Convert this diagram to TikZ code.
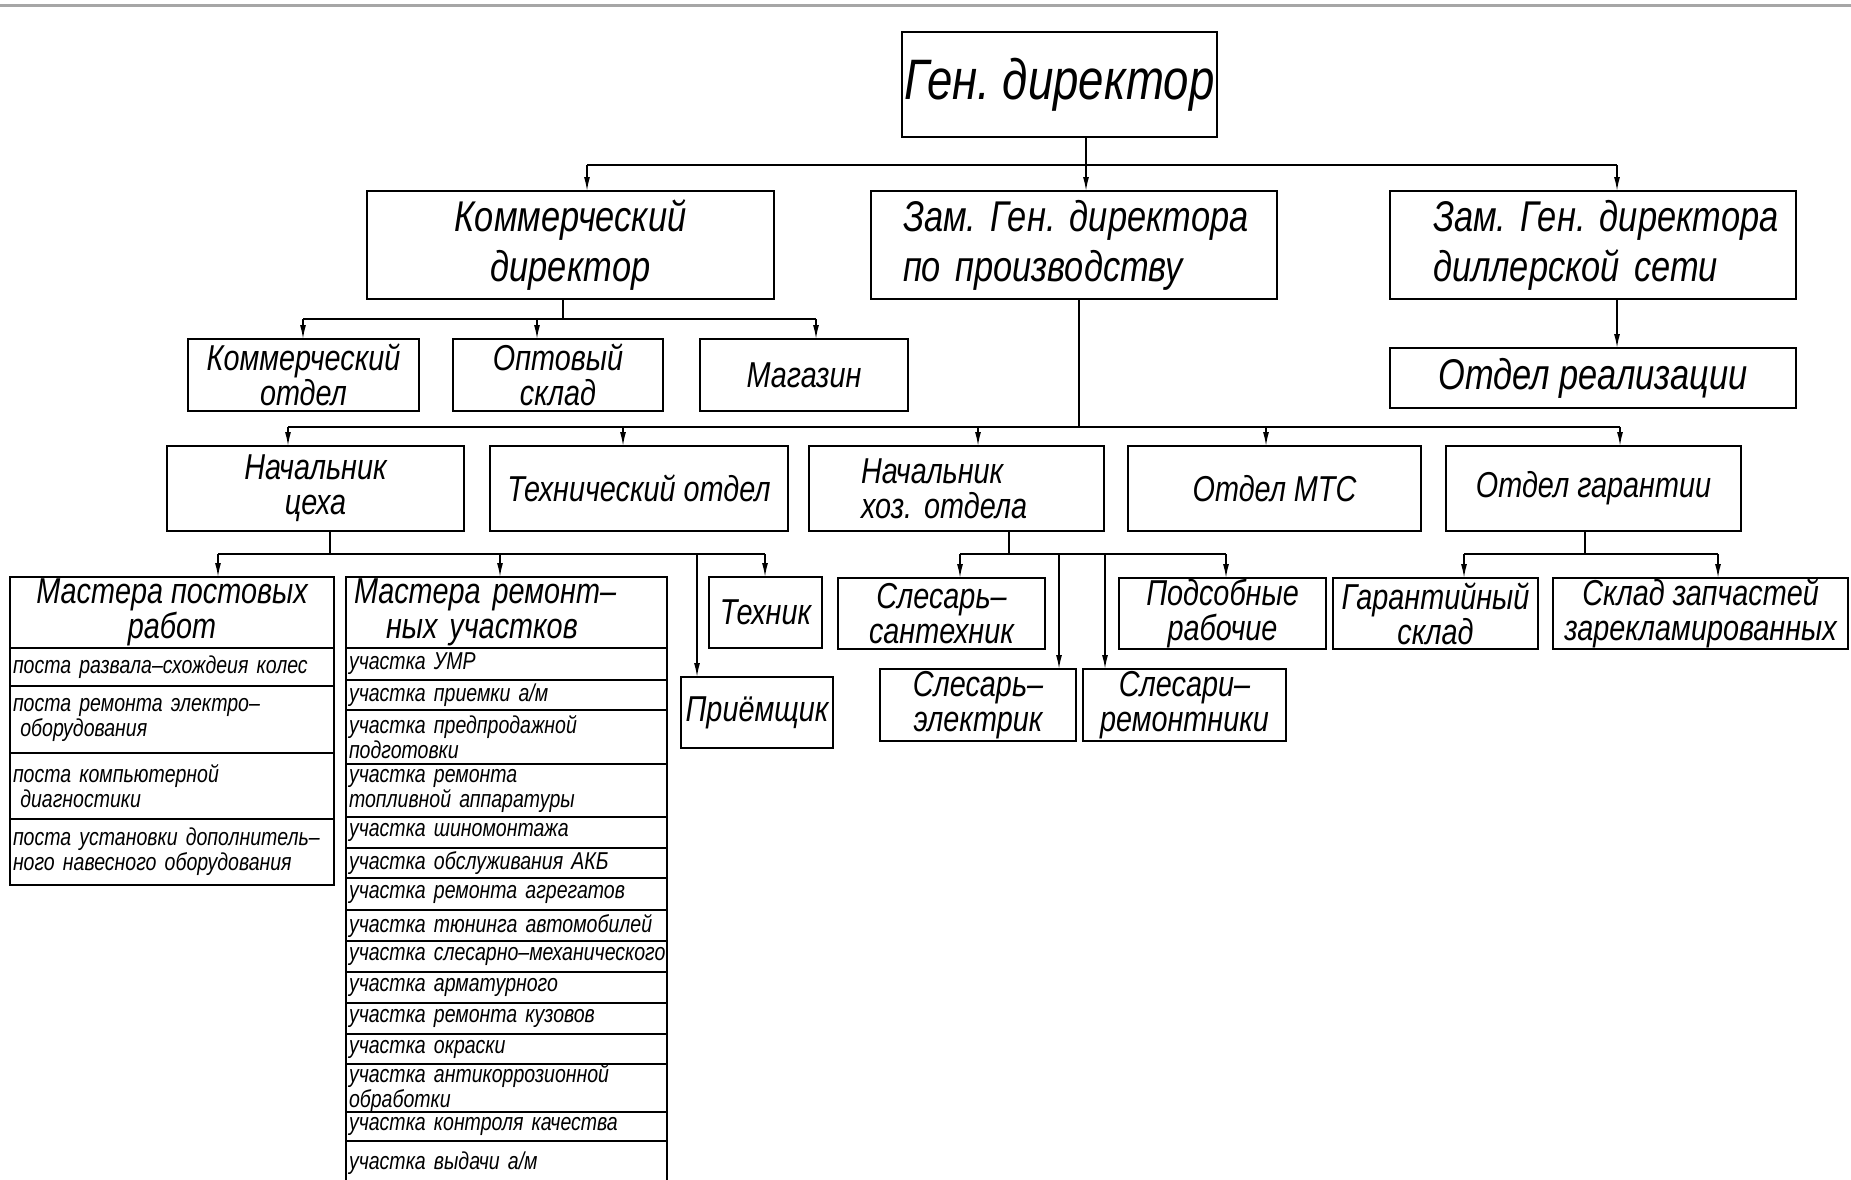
\documentclass[tikz,border=0pt]{standalone}
\usepackage{fontspec}
\setmainfont{Liberation Sans}[FakeStretch=0.8]
\usetikzlibrary{positioning,arrows.meta}
\newcommand\fgen{\fontsize{57}{57}\selectfont}
\newcommand\fbig{\fontsize{43}{50}\selectfont}
\newcommand\fmid{\fontsize{36}{35}\selectfont}
\newcommand\fsmall{\fontsize{24.4}{25}\selectfont}
\tikzset{
  box/.style={draw, line width=1.6pt, outer sep=0pt, inner xsep=2pt, inner ysep=0pt, align=center, font=\itshape\fmid},
  wh/.style 2 args={minimum width=#1pt, minimum height=#2pt},
  cell/.style={draw, line width=1.4pt, outer sep=0pt, inner xsep=3pt, inner ysep=0pt, align=left, font=\itshape\fsmall},
  link/.style={line width=1.5pt},
  arr/.style={line width=1.5pt, -{Latex[length=14pt,width=6pt]}}
}

\begin{document}
\frenchspacing
\begin{tikzpicture}[x=1pt,y=-1pt]
 \useasboundingbox (0,0) rectangle (1851,1179);
 \clip (0,0) rectangle (1851,1179);
 \draw[gray!70, line width=3pt] (0,5) -- (1851,5);

 \node[box, wh={315}{105}, font=\itshape\fgen] (gd) at (1059.5,84.5) {Ген. директор};

 \node[box, wh={407}{108}, font=\itshape\fbig] (kd) at (570.5,245) {Коммерческий\\директор};
 \node[box, minimum height=108pt, inner xsep=32pt, text width=342pt, align=left, font=\itshape\fbig] (zp) at (1074,245) {\mbox{Зам. Ген. директора}\\\mbox{по производству}};
 \node[box, minimum height=108pt, inner xsep=43pt, text width=320pt, align=left, font=\itshape\fbig] (zd) at (1593,245) {\mbox{Зам. Ген. директора}\\\mbox{диллерской сети}};

 \node[box, wh={231}{72}] (ko) at (303.5,375) {Коммерческий\\отдел};
 \node[box, wh={210}{72}] (os) at (558,375) {Оптовый\\склад};
 \node[box, wh={208}{72}] (mg) at (804,375) {Магазин};
 \node[box, wh={406}{60}, font=\itshape\fbig] (ore) at (1593,378) {Отдел реализации};

 \node[box, wh={297}{85}] (nc) at (315.5,488.5) {Начальник\\цеха};
 \node[box, wh={298}{85}] (to) at (639,488.5) {Технический отдел};
 \node[box, minimum height=85pt, inner xsep=52pt, text width=191pt, align=left] (nh) at (956.5,488.5) {\mbox{Начальник}\\\mbox{хоз. отдела}};
 \node[box, wh={293}{85}] (mts) at (1274.5,488.5) {Отдел МТС};
 \node[box, wh={295}{85}] (og) at (1593.5,488.5) {Отдел гарантии};

 \node[box, wh={324}{71}, anchor=north west] (mp0) at (10,577) {Мастера постовых\\работ};
 \foreach \h/\t [count=\i] in {38/{поста развала–схождеия колес},
   67/{поста ремонта электро–\\\hspace*{0.3em}оборудования},
   66/{поста компьютерной\\\hspace*{0.3em}диагностики},
   66/{поста установки дополнитель–\\ного навесного оборудования}}
 {
  \pgfmathtruncatemacro\j{\i-1}
  \node[cell, text width=318pt, minimum height=\h pt, below=0pt of mp\j] (mp\i) {\t};
 }

 \node[box, minimum height=71pt, inner xsep=8pt, text width=305pt, align=left, anchor=north west] (mr0) at (346,577) {Мастера ремонт–\\\hspace*{32pt}ных участков};
 \foreach \h/\t [count=\i] in {32/{участка УМР}, 30/{участка приемки а/м},
   54/{участка предпродажной\\подготовки}, 53/{участка ремонта\\топливной аппаратуры},
   31/{участка шиномонтажа}, 30/{участка обслуживания АКБ},
   32/{участка ремонта агрегатов}, 31/{участка тюнинга автомобилей},
   31/{\mbox{участка слесарно–механического}}, 31/{участка арматурного},
   31/{участка ремонта кузовов}, 30/{участка окраски},
   44/{\fontsize{24.4}{22}\selectfont участка антикоррозионной\\обработки},
   29/{участка контроля качества}, 44/{участка выдачи а/м}}
 {
  \pgfmathtruncatemacro\j{\i-1}
  \node[cell, text width=315pt, minimum height=\h pt, below=0pt of mr\j] (mr\i) {\t};
 }

 \node[box, wh={113}{71}] (tx) at (765.5,612.5) {Техник};
 \node[box, wh={152}{71}] (pr) at (757,712.5) {Приёмщик};
 \node[box, wh={207}{71}] (ss) at (941.5,613.5) {Слесарь–\\сантехник};
 \node[box, wh={207}{71}] (pd) at (1222.5,613.5) {Подсобные\\рабочие};
 \node[box, wh={196}{72}] (se) at (978,705) {Слесарь–\\электрик};
 \node[box, wh={203}{72}] (sr) at (1184.5,705) {Слесари–\\ремонтники};
 \node[box, wh={205}{71}] (gs) at (1435.5,613.5) {Гарантийный\\склад};
 \node[box, wh={295}{71}] (sz) at (1700.5,613.5) {Склад запчастей\\зарекламированных};

 \coordinate (g1) at (587,165);
 \coordinate (g2) at (1086,165);
 \coordinate (g3) at (1617,165);
 \draw[link] (g1) -- (g3);
 \draw[arr] (gd.south -| g2) -- (zp.north -| g2);
 \draw[arr] (g1) -- (kd.north -| g1);
 \draw[arr] (g3) -- (zd.north -| g3);
 \draw[arr] (zd.south -| g3) -- (ore.north -| g3);

 \coordinate (c0) at (563,319);
 \coordinate (c1) at (303,319);
 \coordinate (c2) at (537,319);
 \coordinate (c3) at (816,319);
 \draw[link] (kd.south -| c0) -- (c0);
 \draw[link] (c1) -- (c3);
 \foreach \n/\m in {c1/ko,c2/os,c3/mg}
  \draw[arr] (\n) -- (\m.north -| \n);

 \coordinate (p0) at (1079,427);
 \coordinate (p1) at (288,427);
 \coordinate (p2) at (623,427);
 \coordinate (p3) at (978,427);
 \coordinate (p4) at (1266,427);
 \coordinate (p5) at (1620,427);
 \draw[link] (zp.south -| p0) -- (p0);
 \draw[link] (p1) -- (p5);
 \foreach \n/\m in {p1/nc,p2/to,p3/nh,p4/mts,p5/og}
  \draw[arr] (\n) -- (\m.north -| \n);

 \coordinate (s0) at (330,554);
 \coordinate (s1) at (218,554);
 \coordinate (s2) at (500,554);
 \coordinate (s3) at (697,554);
 \coordinate (s4) at (765,554);
 \draw[link] (nc.south -| s0) -- (s0);
 \draw[link] (s1) -- (s4);
 \foreach \n/\m in {s1/mp0,s2/mr0,s3/pr,s4/tx}
  \draw[arr] (\n) -- (\m.north -| \n);

 \coordinate (h0) at (1009,554);
 \coordinate (h1) at (960,554);
 \coordinate (h2) at (1059,554);
 \coordinate (h3) at (1105,554);
 \coordinate (h4) at (1226,554);
 \draw[link] (nh.south -| h0) -- (h0);
 \draw[link] (h1) -- (h4);
 \foreach \n/\m in {h1/ss,h2/se,h3/sr,h4/pd}
  \draw[arr] (\n) -- (\m.north -| \n);

 \coordinate (w0) at (1585,554);
 \coordinate (w1) at (1464,554);
 \coordinate (w2) at (1718,554);
 \draw[link] (og.south -| w0) -- (w0);
 \draw[link] (w1) -- (w2);
 \foreach \n/\m in {w1/gs,w2/sz}
  \draw[arr] (\n) -- (\m.north -| \n);
\end{tikzpicture}
\end{document}
